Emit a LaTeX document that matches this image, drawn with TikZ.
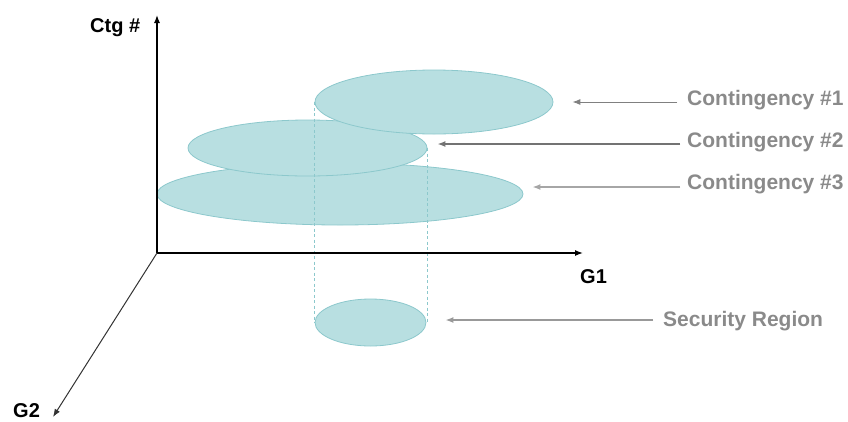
\documentclass[tikz,border=0pt]{standalone}
\usepackage{fontspec}
\setmainfont{Liberation Sans}
\usetikzlibrary{shapes.geometric,arrows.meta}
\definecolor{regfill}{HTML}{B8DFE1}
\definecolor{regedge}{HTML}{8CC8CC}
\definecolor{labgray}{HTML}{8A8A8A}
\tikzset{
  region/.style={ellipse, fill=regfill, draw=regedge, line width=0.8pt, inner sep=0pt},
  axis/.style={line width=1.3pt, -{Latex[length=8pt,width=6pt]}},
  axislabel/.style={anchor=base west, inner sep=0pt, font=\fontsize{20}{20}\selectfont\bfseries, text=black},
  ctglabel/.style={anchor=base west, inner sep=0pt, font=\fontsize{21}{21}\selectfont\bfseries, text=labgray},
  pointer/.style={-{Latex[length=8pt,width=6pt]}},
  guide/.style={draw=regedge, line width=0.7pt, dash pattern=on 3pt off 2.5pt}
}
\begin{document}
\begin{tikzpicture}[x=1pt,y=-1pt]
\useasboundingbox (0,0) rectangle (848,421);
% regions
\node[region, minimum width=366pt, minimum height=62pt] (e3) at (340,194) {};
\node[region, minimum width=239pt, minimum height=56pt] (e2) at (307.5,148) {};
\node[region, minimum width=238pt, minimum height=64pt] (e1) at (434,102) {};
\node[region, minimum width=111pt, minimum height=47pt] (sr) at (370.5,322.5) {};
% guides
\draw[guide] (e1.west) -- (e1.west |- sr.center);
\draw[guide] (e2.east) -- (e2.east |- sr.center);
% axes
\coordinate (O) at (157,253);
\coordinate (ytip) at (157,15);
\coordinate (xtip) at (583,253);
\coordinate (ztip) at (53,417);
\draw[axis] (O) -- (ytip);
\draw[axis] (O) -- (xtip);
\draw[axis, line width=1pt, draw=black!80] (O) -- (ztip);
\node[axislabel] (ly) at (90,32) {Ctg \#};
\node[axislabel] (lx) at (580,283) {G1};
\node[axislabel] (lz) at (13,417) {G2};
% labels
\node[ctglabel] (c1) at (687,105) {Contingency \#1};
\node[ctglabel] (c2) at (687,147) {Contingency \#2};
\node[ctglabel] (c3) at (687,189) {Contingency \#3};
\node[ctglabel] (cs) at (663,326) {Security Region};
% pointers
\coordinate (p1) at (677,102);
\coordinate (p2) at (680,144);
\coordinate (p3) at (680,187);
\coordinate (ps) at (653,320);
\draw[pointer, draw=black!50, fill=black!50, line width=0.9pt, shorten >=19pt] (p1) -- (p1 -| e1.east);
\draw[pointer, draw=black!55, fill=black!55, line width=1.8pt, shorten >=10pt] (p2) -- (p2 -| e2.east);
\draw[pointer, draw=black!35, fill=black!35, line width=1.8pt, shorten >=9pt] (p3) -- (p3 -| e3.east);
\draw[pointer, draw=black!40, fill=black!40, line width=2pt, shorten >=19pt] (ps) -- (ps -| sr.east);
\end{tikzpicture}
\end{document}
